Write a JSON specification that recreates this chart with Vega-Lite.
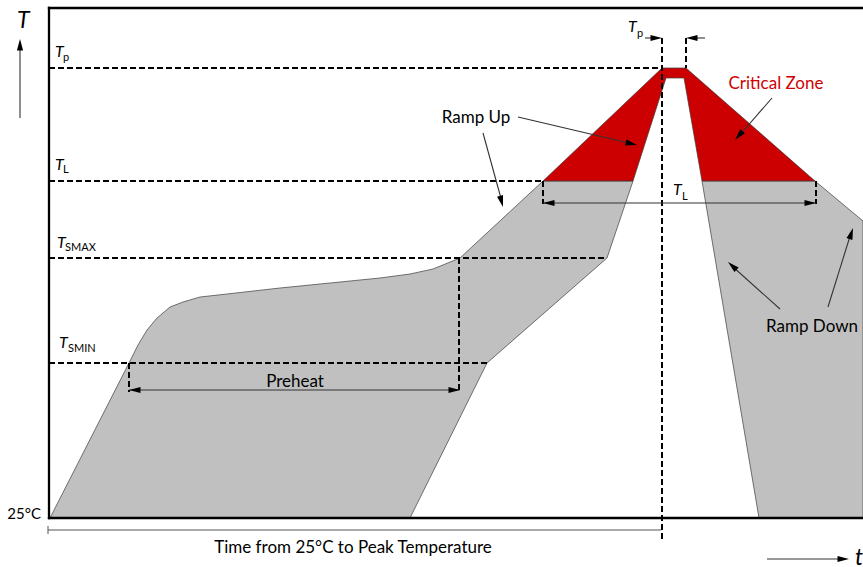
{
  "$schema": "https://vega.github.io/schema/vega-lite/v6.json",
  "width": 863,
  "height": 567,
  "autosize": {"type": "none"},
  "padding": 0,
  "background": "white",
  "view": {"stroke": null},
  "config": {"text": {"font": "Lato"}},
  "datasets": {
    "polys": [
      {"poly": "left", "zone": "band", "i": 1, "t": 1, "T": 0},
      {"poly": "left", "zone": "band", "i": 2, "t": 80, "T": 155},
      {"poly": "left", "zone": "band", "i": 3, "t": 89, "T": 173},
      {"poly": "left", "zone": "band", "i": 4, "t": 98, "T": 188},
      {"poly": "left", "zone": "band", "i": 5, "t": 108, "T": 200},
      {"poly": "left", "zone": "band", "i": 6, "t": 121, "T": 211},
      {"poly": "left", "zone": "band", "i": 7, "t": 134, "T": 216},
      {"poly": "left", "zone": "band", "i": 8, "t": 151, "T": 221},
      {"poly": "left", "zone": "band", "i": 9, "t": 178, "T": 224},
      {"poly": "left", "zone": "band", "i": 10, "t": 231, "T": 230},
      {"poly": "left", "zone": "band", "i": 11, "t": 281, "T": 235},
      {"poly": "left", "zone": "band", "i": 12, "t": 331, "T": 240},
      {"poly": "left", "zone": "band", "i": 13, "t": 361, "T": 244},
      {"poly": "left", "zone": "band", "i": 14, "t": 384, "T": 249},
      {"poly": "left", "zone": "band", "i": 15, "t": 411, "T": 260},
      {"poly": "left", "zone": "band", "i": 16, "t": 494, "T": 337},
      {"poly": "left", "zone": "band", "i": 17, "t": 584, "T": 337},
      {"poly": "left", "zone": "band", "i": 18, "t": 558, "T": 260},
      {"poly": "left", "zone": "band", "i": 19, "t": 438, "T": 155},
      {"poly": "left", "zone": "band", "i": 20, "t": 361, "T": 0},
      {"poly": "right", "zone": "band", "i": 1, "t": 653, "T": 337},
      {"poly": "right", "zone": "band", "i": 2, "t": 766, "T": 337},
      {"poly": "right", "zone": "band", "i": 3, "t": 814, "T": 297},
      {"poly": "right", "zone": "band", "i": 4, "t": 814, "T": 0},
      {"poly": "right", "zone": "band", "i": 5, "t": 710, "T": 0},
      {"poly": "red", "zone": "critical", "i": 1, "t": 494, "T": 337},
      {"poly": "red", "zone": "critical", "i": 2, "t": 613, "T": 450},
      {"poly": "red", "zone": "critical", "i": 3, "t": 637, "T": 450},
      {"poly": "red", "zone": "critical", "i": 4, "t": 766, "T": 337},
      {"poly": "red", "zone": "critical", "i": 5, "t": 653, "T": 337},
      {"poly": "red", "zone": "critical", "i": 6, "t": 635, "T": 440},
      {"poly": "red", "zone": "critical", "i": 7, "t": 617, "T": 440},
      {"poly": "red", "zone": "critical", "i": 8, "t": 584, "T": 337}
    ],
    "frame": [
      {"t": 0, "T": 0, "t2": 0, "T2": 510},
      {"t": 0, "T": 510, "t2": 814, "T2": 510},
      {"t": 0, "T": 0, "t2": 814, "T2": 0}
    ],
    "dashes": [
      {"t": 0, "T": 450, "t2": 613, "T2": 450},
      {"t": 0, "T": 337, "t2": 494, "T2": 337},
      {"t": 0, "T": 260, "t2": 558, "T2": 260},
      {"t": 0, "T": 155, "t2": 438, "T2": 155},
      {"t": 80, "T": 155, "t2": 80, "T2": 126},
      {"t": 410, "T": 260, "t2": 410, "T2": 126},
      {"t": 494, "T": 337, "t2": 494, "T2": 314},
      {"t": 767, "T": 337, "t2": 767, "T2": 314},
      {"t": 613, "T": 480, "t2": 613, "T2": -22},
      {"t": 637, "T": 480, "t2": 637, "T2": 450}
    ],
    "shafts": [
      {"t": -29, "T": 400, "t2": -29, "T2": 470},
      {"t": 718, "T": -41, "t2": 795, "T2": -41},
      {"t": 80, "T": 128, "t2": 410, "T2": 128},
      {"t": 494, "T": 315, "t2": 767, "T2": 315},
      {"t": 596, "T": 480, "t2": 608, "T2": 480},
      {"t": 656, "T": 480, "t2": 642, "T2": 480},
      {"t": 469, "T": 401, "t2": 584, "T2": 374},
      {"t": 434, "T": 385, "t2": 453, "T2": 316},
      {"t": 723, "T": 420, "t2": 689, "T2": 381},
      {"t": 731, "T": 209, "t2": 683, "T2": 252},
      {"t": 779, "T": 211, "t2": 802, "T2": 285}
    ],
    "timeline": [
      {"t": -1, "T": -12, "t2": 612, "T2": -12},
      {"t": -1, "T": -8, "t2": -1, "T2": -16}
    ],
    "heads": [
      {"t": -29, "T": 479, "heading": 0},
      {"t": 800, "T": -41, "heading": 90},
      {"t": 80, "T": 128, "heading": 270},
      {"t": 411, "T": 128, "heading": 90},
      {"t": 494, "T": 315, "heading": 270},
      {"t": 767, "T": 315, "heading": 90},
      {"t": 613, "T": 480, "heading": 90},
      {"t": 637, "T": 480, "heading": 270},
      {"t": 588, "T": 373, "heading": 103},
      {"t": 454, "T": 311, "heading": 165},
      {"t": 686, "T": 378, "heading": 221},
      {"t": 679, "T": 256, "heading": 312},
      {"t": 804, "T": 290, "heading": 18}
    ],
    "labels": [
      {"kind": "main", "text": "Ramp Up", "t": 427, "T": 395},
      {"kind": "main", "text": "Preheat", "t": 246, "T": 131},
      {"kind": "main", "text": "Ramp Down", "t": 763, "T": 186},
      {"kind": "main", "text": "Time from 25°C to Peak Temperature", "t": 304, "T": -35},
      {"kind": "red", "text": "Critical Zone", "t": 727, "T": 429},
      {"kind": "origin", "text": "25°C", "t": -8, "T": -1},
      {"kind": "sym", "text": "T", "t": 6, "T": 461},
      {"kind": "sub", "text": "p", "t": 14, "T": 457},
      {"kind": "sym", "text": "T", "t": 6, "T": 348},
      {"kind": "sub", "text": "L", "t": 14, "T": 345},
      {"kind": "sym", "text": "T", "t": 8, "T": 270},
      {"kind": "sub", "text": "SMAX", "t": 16, "T": 267},
      {"kind": "sym", "text": "T", "t": 10, "T": 170},
      {"kind": "sub", "text": "SMIN", "t": 19, "T": 166},
      {"kind": "sym", "text": "T", "t": 579, "T": 486},
      {"kind": "sub", "text": "p", "t": 588, "T": 481},
      {"kind": "sym", "text": "T", "t": 624, "T": 323},
      {"kind": "sub", "text": "L", "t": 633, "T": 318},
      {"kind": "axis", "text": "T", "t": -32, "T": 490},
      {"kind": "axis", "text": "t", "t": 806, "T": -47}
    ]
  },
  "encoding": {
    "x": {"field": "t", "type": "quantitative", "axis": null, "scale": {"domain": [-49, 814], "nice": false, "zero": false}},
    "y": {"field": "T", "type": "quantitative", "axis": null, "scale": {"domain": [-49, 518], "nice": false, "zero": false}}
  },
  "layer": [
    {
      "data": {"name": "polys"},
      "mark": {"type": "line", "interpolate": "linear-closed", "filled": true, "stroke": "#3c3c3c", "strokeWidth": 0.7},
      "encoding": {
        "detail": {"field": "poly"},
        "order": {"field": "i", "type": "quantitative"},
        "color": {"field": "zone", "type": "nominal", "legend": null, "scale": {"domain": ["band", "critical"], "range": ["#c0c0c0", "#cc0000"]}}
      }
    },
    {
      "data": {"name": "dashes"},
      "mark": {"type": "rule", "color": "black", "strokeWidth": 2, "strokeDash": [6, 3]},
      "encoding": {"x2": {"field": "t2"}, "y2": {"field": "T2"}}
    },
    {
      "data": {"name": "shafts"},
      "mark": {"type": "rule", "color": "#333333", "strokeWidth": 1.1},
      "encoding": {"x2": {"field": "t2"}, "y2": {"field": "T2"}}
    },
    {
      "data": {"name": "timeline"},
      "mark": {"type": "rule", "color": "#555555", "strokeWidth": 1},
      "encoding": {"x2": {"field": "t2"}, "y2": {"field": "T2"}}
    },
    {
      "data": {"name": "frame"},
      "mark": {"type": "rule", "color": "black", "strokeWidth": 2.3, "strokeCap": "square"},
      "encoding": {"x2": {"field": "t2"}, "y2": {"field": "T2"}}
    },
    {
      "data": {"name": "heads"},
      "mark": {"type": "point", "shape": "M0,0L0.27,1L-0.27,1Z", "filled": true, "color": "black", "opacity": 1, "size": 529, "strokeWidth": 0},
      "encoding": {"angle": {"field": "heading", "type": "quantitative", "scale": null}}
    },
    {
      "data": {"name": "labels"},
      "transform": [{"filter": "datum.kind === 'main'"}],
      "mark": {"type": "text", "fontSize": 17, "align": "center", "baseline": "alphabetic", "color": "black"},
      "encoding": {"text": {"field": "text"}}
    },
    {
      "data": {"name": "labels"},
      "transform": [{"filter": "datum.kind === 'red'"}],
      "mark": {"type": "text", "fontSize": 17, "align": "center", "baseline": "alphabetic", "color": "#d00000"},
      "encoding": {"text": {"field": "text"}}
    },
    {
      "data": {"name": "labels"},
      "transform": [{"filter": "datum.kind === 'origin'"}],
      "mark": {"type": "text", "fontSize": 15, "align": "right", "baseline": "alphabetic", "color": "black"},
      "encoding": {"text": {"field": "text"}}
    },
    {
      "data": {"name": "labels"},
      "transform": [{"filter": "datum.kind === 'sym'"}],
      "mark": {"type": "text", "fontSize": 16, "fontStyle": "italic", "align": "left", "baseline": "alphabetic", "color": "black"},
      "encoding": {"text": {"field": "text"}}
    },
    {
      "data": {"name": "labels"},
      "transform": [{"filter": "datum.kind === 'sub'"}],
      "mark": {"type": "text", "fontSize": 11, "align": "left", "baseline": "alphabetic", "color": "black"},
      "encoding": {"text": {"field": "text"}}
    },
    {
      "data": {"name": "labels"},
      "transform": [{"filter": "datum.kind === 'axis'"}],
      "mark": {"type": "text", "fontSize": 23, "fontStyle": "italic", "align": "left", "baseline": "alphabetic", "color": "black"},
      "encoding": {"text": {"field": "text"}}
    }
  ]
}
